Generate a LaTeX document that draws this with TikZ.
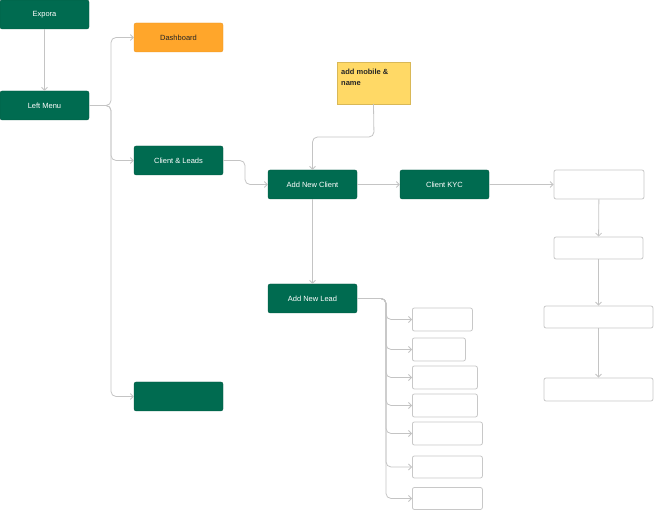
\documentclass[tikz,border=0pt]{standalone}
\usepackage{fontspec}
\setmainfont{Liberation Sans}
\usetikzlibrary{arrows.meta}
\definecolor{fgreen}{HTML}{006B50}
\definecolor{forange}{HTML}{FFA62B}
\definecolor{fyellow}{HTML}{FFD966}
\definecolor{fline}{HTML}{C4C4C4}
\definecolor{fbord}{HTML}{C8C8C8}
\tikzset{
  gbox/.style={fill=fgreen, draw=fgreen!80!black, line width=0.3pt, text=white, rounded corners=2pt, minimum width=89pt, minimum height=29pt, inner sep=0pt, font=\fontsize{7.5}{9}\selectfont},
  obox/.style={gbox, fill=forange, draw=forange!90!black, text=black!85},
  wbox/.style={draw=fbord, line width=0.8pt, fill=white, rounded corners=2pt, inner sep=0pt},
  conn/.style={draw=fline, line width=0.8pt, rounded corners=5pt, -{Straight Barb[length=3pt,width=6pt]}},
}
\begin{document}
\begin{tikzpicture}[x=1pt,y=-1pt]
\useasboundingbox (0,0) rectangle (654,510);
% main nodes
\node[gbox] (expora) at (44.5,14.5) {Expora};
\node[gbox] (lmenu) at (44.5,105.5) {Left Menu};
\node[obox] (dash) at (178.5,37.5) {Dashboard};
\node[gbox] (cl) at (178.5,160.5) {Client \& Leads};
\node[gbox] (blank) at (178.5,396.5) {};
\node[gbox] (anc) at (312.5,184.5) {Add New Client};
\node[gbox] (kyc) at (444.5,184.5) {Client KYC};
\node[gbox] (anl) at (312.5,298.5) {Add New Lead};
% sticky note
\node[fill=fyellow, draw=fyellow!85!black, line width=0.3pt, minimum width=73pt, minimum height=42pt, inner sep=0pt] (sticky) at (373.5,83) {};
\node[anchor=north west, align=left, inner sep=0pt, font=\bfseries\fontsize{7.5}{11}\selectfont, text=black!85] (stext) at (341,68.5) {add mobile \&\\name};
% right column
\node[wbox, minimum width=90pt, minimum height=29pt] (r1) at (599,184.5) {};
\node[wbox, minimum width=89pt, minimum height=22pt] (r2) at (598.5,248) {};
\node[wbox, minimum width=109pt, minimum height=22pt] (r3) at (598.5,317) {};
\node[wbox, minimum width=109pt, minimum height=23pt] (r4) at (598.5,389.5) {};
% lead list
\node[wbox, minimum width=60pt, minimum height=23pt, anchor=west] (l1) at (412,319.5) {};
\node[wbox, minimum width=53pt, minimum height=23pt, anchor=west] (l2) at (412,349.5) {};
\node[wbox, minimum width=65pt, minimum height=23pt, anchor=west] (l3) at (412,377.5) {};
\node[wbox, minimum width=65pt, minimum height=23pt, anchor=west] (l4) at (412,405.5) {};
\node[wbox, minimum width=70pt, minimum height=23pt, anchor=west] (l5) at (412,433.5) {};
\node[wbox, minimum width=70pt, minimum height=22pt, anchor=west] (l6) at (412,467) {};
\node[wbox, minimum width=70pt, minimum height=22pt, anchor=west] (l7) at (412,498.5) {};
% connectors
\draw[conn] (expora) -- (lmenu);
\coordinate (tk) at (111,105.5);
\draw[conn] (lmenu.east) -- (tk) |- (dash.west);
\draw[conn] (lmenu.east) -- (tk) |- (cl.west);
\draw[conn] (lmenu.east) -- (tk) |- (blank.west);
\coordinate (cm) at (245,160.5);
\draw[conn] (cl.east) -- (cm) |- (anc.west);
\coordinate (sm) at (374,137);
\draw[conn] (sticky.south) -- (sm) -| (anc.north);
\draw[conn] (anc) -- (kyc);
\draw[conn] (anc) -- (anl);
\draw[conn] (kyc) -- (r1);
\draw[conn] (r1) -- (r2);
\draw[conn] (r2) -- (r3);
\draw[conn] (r3) -- (r4);
\coordinate (lt) at (386,298.5);
\foreach \b in {l1,l2,l3,l4,l5,l6,l7}{
  \draw[conn] (anl.east) -- (lt) |- (\b.west);
}
\end{tikzpicture}
\end{document}
